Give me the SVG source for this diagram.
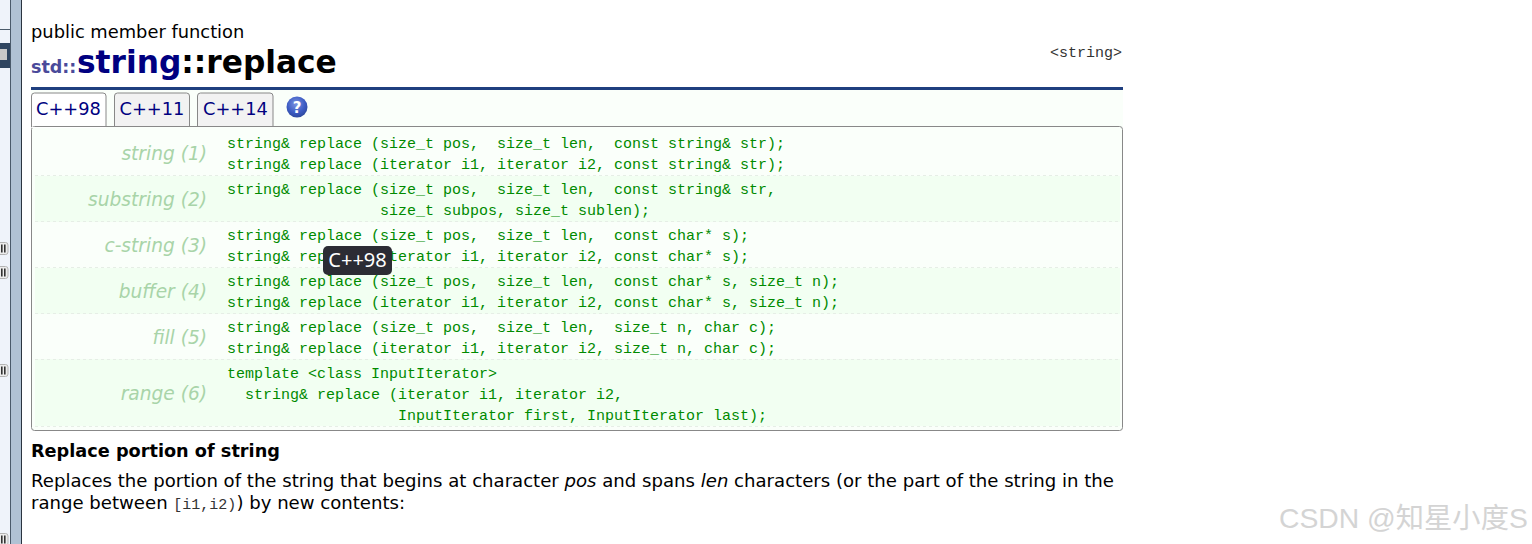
<svg xmlns="http://www.w3.org/2000/svg" width="1532" height="544" viewBox="0 0 1532 544">
<defs>
<radialGradient id="q" cx="0.45" cy="0.35" r="0.7"><stop offset="0" stop-color="#7c94e0"/><stop offset="0.6" stop-color="#3d5cc4"/><stop offset="1" stop-color="#2a4596"/></radialGradient>
<g id="pause"><rect x="-4" y="0.500" width="12" height="12" rx="2.500" fill="#ececec" stroke="#b4b4b4"/><rect x="1" y="2.500" width="1.600" height="8" fill="#333"/><rect x="4" y="2.500" width="1.600" height="8" fill="#333"/></g>
</defs>
<style>
.m{font:15px "Liberation Mono","DejaVu Sans Mono",monospace;fill:#008a00;white-space:pre}
.l{font:italic 18.6px "DejaVu Sans",Verdana,sans-serif;fill:#a8d4a8;text-anchor:end}
.b{font:18.1px "DejaVu Sans",Verdana,sans-serif;fill:#000}
.t{font:17.8px "DejaVu Sans",Verdana,sans-serif;fill:#000080}
.d{fill:none;stroke:#e6eee6;stroke-dasharray:3 3}
</style>
<rect width="1532" height="544" fill="#fff"/>
<g id="sidebar">
<rect width="10" height="544" fill="#eff3fa"/>
<rect x="10" width="1" height="544" fill="#4a5a6a"/>
<rect x="11" width="10" height="544" fill="#b0c2d4"/>
<rect x="21" width="1" height="544" fill="#2a3440"/>
<rect y="29" width="10" height="1" fill="#4a5a6a"/>
<rect y="43" width="10" height="25" fill="#2f4560"/>
<rect y="49" width="7" height="11" fill="#c8c8c8"/>
<use href="#pause" y="242"/>
<use href="#pause" y="266"/>
<use href="#pause" y="364"/>
<use href="#pause" y="533"/>
</g>
<g id="header">
<text x="31" y="38" font-family="DejaVu Sans" font-size="17.850">public member function</text>
<text x="31" y="73" font-family="DejaVu Sans" font-weight="700" font-size="17.500" fill="#4a4a9a">std::</text>
<text x="77" y="73" font-family="DejaVu Sans" font-weight="700" font-size="31.250"><tspan fill="#000080">string</tspan><tspan fill="#000">::replace</tspan></text>
<text x="1122" y="57" text-anchor="end" font-family="Liberation Mono" font-size="15" fill="#333">&lt;string&gt;</text>
<rect x="31" y="87" width="1092" height="3" fill="#1f3f7f"/>
</g>
<g id="tabs">
<rect x="31" y="90" width="1092" height="37" fill="#fafffa"/>
<path d="M31.500 127V96q0-3 3-3H103q3 0 3 3V127" fill="#fff" stroke="#888"/>
<path d="M114.500 126V96q0-3 3-3H186.500q3 0 3 3V126" fill="#f2f2f2" stroke="#888"/>
<path d="M197.500 126V96q0-3 3-3H270q3 0 3 3V126" fill="#f2f2f2" stroke="#888"/>
<text x="36" y="114.500" class="t">C++98</text><text x="119.500" y="114.500" class="t">C++11</text><text x="203" y="114.500" class="t">C++14</text>
<circle cx="297" cy="107" r="10.500" fill="url(#q)"/>
<text x="297" y="113" text-anchor="middle" font-family="DejaVu Sans" font-weight="700" font-size="15" fill="#fff">?</text>
</g>
<g id="table">
<rect x="31.500" y="126.500" width="1091" height="304" rx="3" fill="#fafffa" stroke="#888"/>
<path d="M32 127.500H106" stroke="#fff" fill="none"/>
<rect x="35" y="176" width="1085" height="46" fill="#f2fff2"/>
<rect x="35" y="268" width="1085" height="46" fill="#f2fff2"/>
<rect x="35" y="359" width="1085" height="67" fill="#f2fff2"/>
<path class="d" d="M35 175.500H1120M35 221.500H1120M35 267.500H1120M35 313.500H1120M35 359.500H1120M35 426.500H1120"/>
<text x="207" y="160" class="l">string (1)</text>
<text x="207" y="206" class="l">substring (2)</text>
<text x="207" y="252" class="l">c-string (3)</text>
<text x="207" y="298" class="l">buffer (4)</text>
<text x="207" y="344" class="l">fill (5)</text>
<text x="207" y="400" class="l">range (6)</text>
<text xml:space="preserve" class="m" x="227" y="148">string&amp; replace (size_t pos,  size_t len,  const string&amp; str);</text>
<text xml:space="preserve" class="m" x="227" y="169">string&amp; replace (iterator i1, iterator i2, const string&amp; str);</text>
<text xml:space="preserve" class="m" x="227" y="194">string&amp; replace (size_t pos,  size_t len,  const string&amp; str,</text>
<text xml:space="preserve" class="m" x="380" y="215">size_t subpos, size_t sublen);</text>
<text xml:space="preserve" class="m" x="227" y="240">string&amp; replace (size_t pos,  size_t len,  const char* s);</text>
<text xml:space="preserve" class="m" x="227" y="261">string&amp; replace (iterator i1, iterator i2, const char* s);</text>
<text xml:space="preserve" class="m" x="227" y="286">string&amp; replace (size_t pos,  size_t len,  const char* s, size_t n);</text>
<text xml:space="preserve" class="m" x="227" y="307">string&amp; replace (iterator i1, iterator i2, const char* s, size_t n);</text>
<text xml:space="preserve" class="m" x="227" y="332">string&amp; replace (size_t pos,  size_t len,  size_t n, char c);</text>
<text xml:space="preserve" class="m" x="227" y="353">string&amp; replace (iterator i1, iterator i2, size_t n, char c);</text>
<text xml:space="preserve" class="m" x="227" y="378">template &lt;class InputIterator&gt;</text>
<text xml:space="preserve" class="m" x="245" y="399">string&amp; replace (iterator i1, iterator i2,</text>
<text xml:space="preserve" class="m" x="398" y="420">InputIterator first, InputIterator last);</text>
</g>
<g id="tooltip">
<rect x="323" y="246" width="69" height="29" rx="5" fill="#2c2c34"/>
<text x="357.500" y="267" text-anchor="middle" font-family="Noto Sans" font-size="20" fill="#fff">C++98</text>
</g>
<g id="body">
<text x="31" y="457" font-family="DejaVu Sans" font-size="17.700" font-weight="700">Replace portion of string</text>
<text x="31" y="487" class="b">Replaces the portion of the string that begins at character <tspan font-style="italic">pos</tspan> and spans <tspan font-style="italic">len</tspan> characters (or the part of the string in the</text>
<text x="31" y="509" class="b">range between <tspan font-family="Liberation Mono" font-size="15" fill="#333">[i1,i2)</tspan>) by new contents:</text>
</g>
<text id="watermark" x="1279" y="528" font-family="Liberation Sans,Noto Sans CJK SC,sans-serif" font-size="28.300" fill="#d4d4d4">CSDN @知星小度S</text>
</svg>
